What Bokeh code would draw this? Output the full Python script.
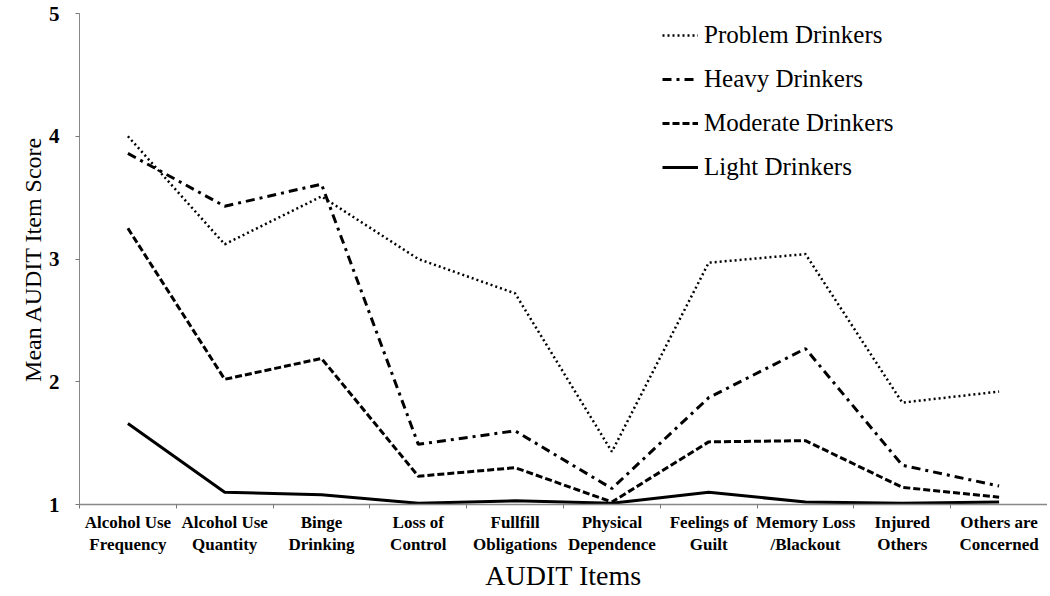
from bokeh.plotting import figure
from bokeh.models import Range1d, FixedTicker, Legend, LegendItem
from bokeh.embed import file_html
from bokeh.resources import INLINE

items = ["Alcohol Use\nFrequency", "Alcohol Use\nQuantity", "Binge\nDrinking",
         "Loss of\nControl", "Fullfill\nObligations", "Physical\nDependence",
         "Feelings of\nGuilt", "Memory Loss\n/Blackout", "Injured\nOthers",
         "Others are\nConcerned"]
problem = [4.00, 3.12, 3.51, 3.00, 2.72, 1.43, 2.97, 3.04, 1.83, 1.92]
heavy = [3.86, 3.43, 3.61, 1.49, 1.60, 1.13, 1.87, 2.27, 1.32, 1.15]
moderate = [3.25, 2.02, 2.19, 1.23, 1.30, 1.02, 1.51, 1.52, 1.14, 1.06]
light = [1.66, 1.10, 1.08, 1.01, 1.03, 1.01, 1.10, 1.02, 1.01, 1.02]
series_names = ["Problem Drinkers", "Heavy Drinkers", "Moderate Drinkers", "Light Drinkers"]
y_ticks = [1, 2, 3, 4, 5]

xs = list(range(1, len(items) + 1))
FONT = "Liberation Serif"

p = figure(width=1047, height=594, output_backend="svg", toolbar_location=None,
           x_range=Range1d(0.5, len(items) + 0.5), y_range=Range1d(1, 5),
           min_border_left=79, min_border_top=13, min_border_right=0, min_border_bottom=0)
p.outline_line_color = None
p.xgrid.grid_line_color = None
p.ygrid.grid_line_color = None
p.background_fill_color = "white"
p.border_fill_color = "white"

r_problem = p.line(xs, problem, line_color="black", line_width=2.5, line_dash="2 3")
r_heavy = p.line(xs, heavy, line_color="black", line_width=3, line_dash="9 5 3 5")
r_moderate = p.line(xs, moderate, line_color="black", line_width=3, line_dash="7 3")
r_light = p.line(xs, light, line_color="black", line_width=3)

# x axis
xa = p.xaxis[0]
xa.ticker = FixedTicker(ticks=xs, minor_ticks=[x - 0.5 for x in xs] + [len(items) + 0.5])
xa.major_label_overrides = {x: lab for x, lab in zip(xs, items)}
xa.major_tick_line_color = None
xa.major_tick_out = 0
xa.major_tick_in = 0
xa.minor_tick_line_color = "#777777"
xa.minor_tick_out = 4
xa.minor_tick_in = 0
xa.axis_line_color = "#888888"
xa.axis_line_width = 1.5
xa.major_label_text_font = FONT
xa.major_label_text_font_style = "bold"
xa.major_label_text_font_size = "17px"
xa.major_label_text_color = "black"
xa.major_label_standoff = 4
xa.axis_label = "AUDIT Items"
xa.axis_label_text_font = FONT
xa.axis_label_text_font_style = "normal"
xa.axis_label_text_font_size = "28px"
xa.axis_label_text_color = "black"
xa.axis_label_standoff = 3

# y axis
ya = p.yaxis[0]
ya.ticker = FixedTicker(ticks=y_ticks, minor_ticks=[])
ya.major_tick_line_color = "#777777"
ya.major_tick_out = 4
ya.major_tick_in = 0
ya.minor_tick_line_color = None
ya.axis_line_color = "#888888"
ya.axis_line_width = 1
ya.major_label_text_font = FONT
ya.major_label_text_font_style = "bold"
ya.major_label_text_font_size = "21px"
ya.major_label_text_color = "black"
ya.major_label_standoff = 16
ya.axis_label = "Mean AUDIT Item Score"
ya.axis_label_text_font = FONT
ya.axis_label_text_font_style = "normal"
ya.axis_label_text_font_size = "24px"
ya.axis_label_text_color = "black"
ya.axis_label_standoff = 0

legend = Legend(items=[
    LegendItem(label=series_names[0], renderers=[r_problem]),
    LegendItem(label=series_names[1], renderers=[r_heavy]),
    LegendItem(label=series_names[2], renderers=[r_moderate]),
    LegendItem(label=series_names[3], renderers=[r_light]),
], location=(583, 323), orientation="vertical")
legend.background_fill_alpha = 0
legend.border_line_color = None
legend.padding = 0
legend.margin = 0
legend.spacing = 16
legend.glyph_width = 36
legend.glyph_height = 24
legend.label_height = 24
legend.label_standoff = 6
legend.label_text_font = FONT
legend.label_text_font_size = "25px"
legend.label_text_color = "black"
p.add_layout(legend, "center")

open("out.html", "w").write(file_html(p, INLINE))
